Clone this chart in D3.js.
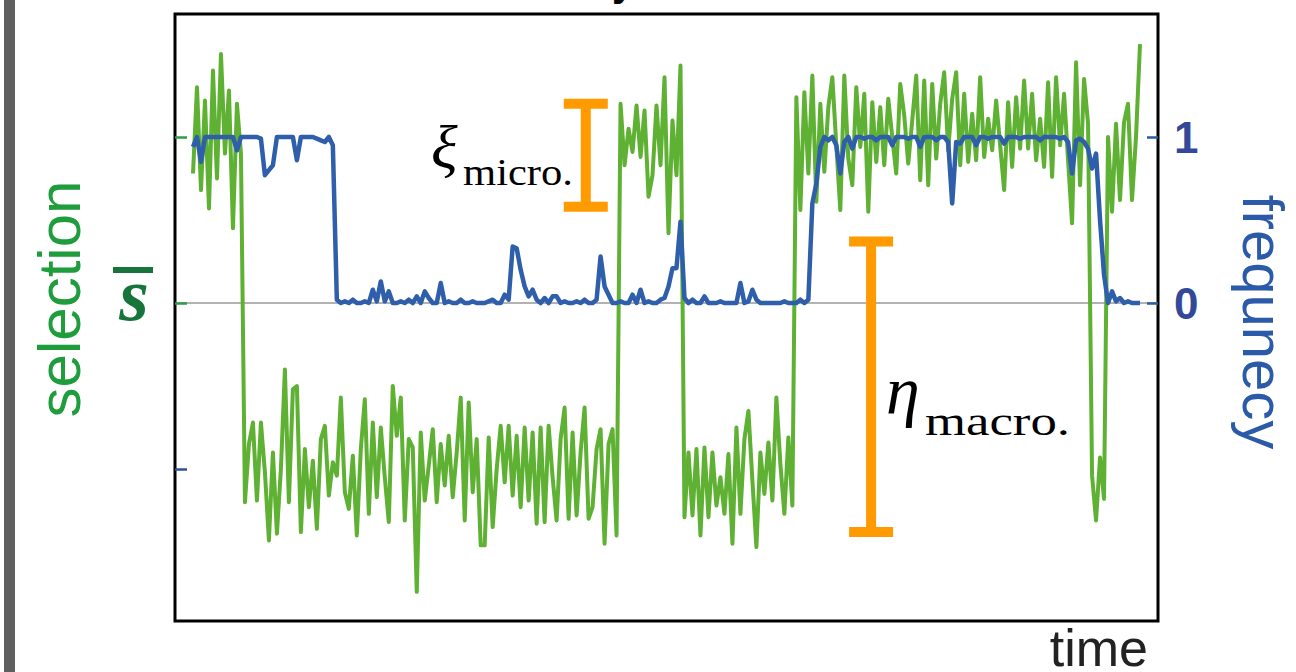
<!DOCTYPE html>
<html lang="en">
    <head>
        <meta charset="utf-8">
        <title>selection vs frequency</title>
        <script type="text/javascript" src="https://cdn.jsdelivr.net/npm/d3@7"></script>
        <style>
            body { margin: 0; background: #fff; }
            .sans { font-family: "Liberation Sans", Arial, sans-serif; }
            .serif { font-family: "Liberation Serif", "Times New Roman", serif; }
        </style>
    </head>

    <body>
        <script type="text/javascript">
        var w = 1296;
        var h = 672;

        // selection s, one value per time step
        var selection = [
            0.78, 1.3, 0.68, 1.22, 0.57, 1.4, 0.75, 1.5, 0.9, 1.28, 0.45, 1.2, 0.9,
            -1.2, -0.85, -0.72, -1.19, -0.72, -1.02, -1.43, -0.9, -1.39, -1.0,
            -0.4, -1.2, -0.52, -0.5, -1.38, -0.88, -1.23, -0.95, -1.36, -0.82,
            -0.74, -1.16, -0.96, -1.04, -0.57, -1.14, -1.24, -0.92, -1.4, -0.88,
            -0.58, -1.27, -0.72, -1.17, -0.75, -1.05, -1.32, -0.5, -0.8, -0.57,
            -1.31, -0.82, -0.87, -1.74, -0.78, -1.19, -0.98, -0.76, -1.2, -0.85,
            -1.1, -0.8, -1.17, -0.9, -0.57, -1.31, -0.6, -1.14, -0.82, -1.46,
            -1.46, -0.81, -1.35, -1.0, -0.74, -1.08, -0.74, -1.16, -0.8, -1.23,
            -0.75, -1.19, -0.78, -1.33, -0.75, -1.32, -0.74, -1.05, -1.31, -0.82,
            -0.63, -1.3, -0.78, -1.28, -0.9, -0.63, -1.3, -1.23, -0.88, -0.76,
            -1.45, -0.85, -0.76, -1.4,
            1.2, 0.83, 1.05, 0.91, 1.19, 0.88, 1.16, 0.64, 0.77, 1.19, 0.83, 1.36, 0.42, 1.1, 0.77, 1.43,
            -1.29, -0.9, -1.28, -0.88, -1.4, -0.87, -1.29, -0.9, -1.22, -1.05, -1.27, -0.91, -1.45, -0.75,
            -1.27, -0.82, -0.65, -1.07, -1.47, -0.9, -1.15, -0.84, -1.19, -0.57, -0.97, -1.27, -0.81, -1.22,
            1.24, 0.56, 1.27, 0.78, 1.37, 0.61, 1.2, 0.79, 1.18, 1.36, 0.95, 0.56, 1.37, 0.87, 0.71, 1.3,
            0.94, 1.26, 0.55, 1.21, 0.85, 1.18, 0.83, 1.23, 1.0, 0.78, 1.32, 1.13, 0.84, 1.1, 1.37, 0.74,
            1.34, 0.71, 1.32, 0.87, 1.2, 1.39, 0.92, 1.23, 1.39, 0.83, 1.26, 0.85, 1.14, 0.86, 1.36, 0.88,
            1.11, 0.92, 1.22, 0.95, 0.68, 1.21, 0.82, 1.24, 0.93, 1.34, 0.93, 1.26, 0.86, 1.11, 0.82, 1.33,
            0.76, 1.36, 0.95, 1.26, 0.86, 0.48, 1.45, 0.71, 1.35, 1.08,
            -1.04, -1.31, -0.93, -1.18, 1.0, 0.55, 1.08, 0.62, 1.09, 1.2, 0.62, 1.0, 1.56
        ];

        // frequency, same time steps
        var frequency = [
            0.94, 1.0, 0.85, 1, 1, 1, 1, 1, 1, 1, 1, 0.92,
            1, 1, 1, 1, 1, 0.99, 0.77, 0.8, 0.83, 1, 1, 1, 1, 1, 0.86,
            1, 1, 1, 1, 0.99, 0.98, 0.97, 1.0, 0.95, 0.02,
            0, 0.01, 0, 0.02, 0, 0, 0.01, 0, 0.08, 0.01, 0.13, 0.01, 0.07,
            0, 0, 0.01, 0, 0.02, 0, 0.04, 0, 0.07, 0.03, 0, 0, 0.12,
            0, 0.01, 0, 0, 0.02, 0, 0, 0.01, 0, 0, 0, 0.01, 0.02, 0, 0,
            0.05, 0.02, 0.34, 0.33, 0.2, 0.1, 0.04, 0.08, 0.02, 0, 0.03, 0, 0.04, 0.04,
            0, 0.01, 0, 0, 0.01, 0, 0.02, 0, 0, 0.02, 0.28, 0.1, 0.05,
            0, 0, 0.01, 0, 0, 0.05, 0, 0.08, 0, 0.01, 0, 0, 0.02,
            0.03, 0.1, 0.21, 0.21, 0.49, 0.03, 0, 0.02, 0, 0, 0.04,
            0, 0, 0, 0.01, 0, 0, 0, 0, 0.12, 0, 0.01, 0.08, 0.02,
            0, 0, 0, 0, 0, 0, 0.01, 0, 0, 0,
            0.02, 0, 0.02, 0.6, 0.72, 0.94, 1.0, 0.98, 1, 0.95, 0.78, 0.97, 1, 0.93,
            1, 1, 0.99, 1, 1, 0.98, 1, 1, 1, 0.95, 1, 1, 1, 0.99, 1, 1, 0.94,
            1, 1, 1, 0.98, 1, 1, 0.97, 0.6, 0.97, 0.96, 1, 1, 1, 0.95,
            1, 1, 0.99, 1, 1, 1, 0.96,
            1, 1, 1, 0.99, 1, 1, 1, 1, 0.98, 1, 1, 1, 1, 0.99, 1, 0.97,
            0.78, 0.98, 0.99, 0.97, 0.93, 0.81, 0.9, 0.5, 0.17,
            0, 0.07, 0.01, 0.03, 0, 0.01, 0, 0, 0
        ];

        // tick values
        var leftTicks = [1, 0, -1];
        var rightTicks = [1, 0];

        // annotation bars: [time step, low s, high s]
        var xiBar = [98.3, 0.58, 1.2];
        var etaBar = [169.7, -1.38, 0.37];

        var green = "#5fb133";
        var blue = "#2f5fab";

        var frame = {left: 175, right: 1158, top: 14, bottom: 621};

        var xScale = d3.scaleLinear()
                    .domain([0, selection.length - 1])
                    .range([193, 1140]);

        var xScaleF = d3.scaleLinear()
                    .domain([0, frequency.length - 1])
                    .range([193, 1140]);

        var yLeft = d3.scaleLinear()
                    .domain([-1, 1])
                    .range([469, 137]);

        var yRight = d3.scaleLinear()
                    .domain([0, 1])
                    .range([303, 137]);

        var svg = d3.select("body")
                    .append("svg")
                    .attr("width", w)
                    .attr("height", h);

        // gray bar on the far left
        svg.append("rect")
            .attr("x", 4).attr("y", 0)
            .attr("width", 11).attr("height", h)
            .attr("fill", "#5f5f5f");

        // cut off title descender at the top
        svg.append("text")
            .attr("class", "sans")
            .attr("x", 612).attr("y", -4)
            .style("font-weight", "bold")
            .style("font-size", "40px")
            .text("y");

        // zero line
        svg.append("line")
            .attr("x1", frame.left).attr("x2", frame.right)
            .attr("y1", yRight(0)).attr("y2", yRight(0))
            .attr("stroke", "#999")
            .attr("stroke-width", 1.5);

        // selection line
        var lineS = d3.line()
                    .x(function(d, i){ return xScale(i); })
                    .y(function(d){ return yLeft(d); });

        svg.append("path")
            .datum(selection)
            .attr("d", lineS)
            .attr("fill", "none")
            .attr("stroke", green)
            .attr("stroke-width", 4)
            .attr("stroke-linejoin", "round");

        // frequency line on top
        var lineF = d3.line()
                    .x(function(d, i){ return xScaleF(i); })
                    .y(function(d){ return yRight(d); });

        svg.append("path")
            .datum(frequency)
            .attr("d", lineF)
            .attr("fill", "none")
            .attr("stroke", blue)
            .attr("stroke-width", 4.5)
            .attr("stroke-linejoin", "round");

        // frame
        svg.append("rect")
            .attr("x", frame.left).attr("y", frame.top)
            .attr("width", frame.right - frame.left)
            .attr("height", frame.bottom - frame.top)
            .attr("fill", "none")
            .attr("stroke", "#000")
            .attr("stroke-width", 3);

        // left ticks, pointing inward, no labels
        var leftAxis = d3.axisLeft(yLeft)
                    .tickValues(leftTicks)
                    .tickSize(-12)
                    .tickFormat("");

        var gl = svg.append("g")
            .attr("transform", "translate(" + frame.left + ",0)")
            .call(leftAxis);
        gl.select(".domain").remove();
        gl.selectAll(".tick line")
            .attr("stroke", function(d){ return d < 0 ? "#2d4f9e" : "#2e9e46"; })
            .attr("stroke-width", 2.5);

        // right ticks with bold labels
        var rightAxis = d3.axisRight(yRight)
                    .tickValues(rightTicks)
                    .tickSize(-11)
                    .tickPadding(16)
                    .tickFormat(d3.format("d"));

        var gr = svg.append("g")
            .attr("transform", "translate(" + frame.right + ",0)")
            .call(rightAxis);
        gr.select(".domain").remove();
        gr.selectAll(".tick line")
            .attr("stroke", "#2d5aa6")
            .attr("stroke-width", 2.5);
        gr.selectAll(".tick text")
            .attr("fill", "#34489a")
            .attr("dy", "0.36em")
            .style("font-family", "'Liberation Sans', Arial, sans-serif")
            .style("font-weight", "bold")
            .style("font-size", "44px");

        // axis titles
        svg.append("text")
            .attr("class", "sans")
            .attr("transform", "translate(80,299) rotate(-90)")
            .attr("text-anchor", "middle")
            .style("font-size", "60px")
            .attr("fill", "#1f9d3d")
            .text("selection");

        svg.append("rect")
            .attr("x", 113).attr("y", 267)
            .attr("width", 40).attr("height", 6)
            .attr("fill", "#17743a");

        svg.append("text")
            .attr("class", "serif")
            .attr("x", 134).attr("y", 320)
            .attr("text-anchor", "middle")
            .style("font-style", "italic")
            .style("font-weight", "bold")
            .style("font-size", "76px")
            .attr("fill", "#17743a")
            .text("s");

        svg.append("text")
            .attr("class", "sans")
            .attr("transform", "translate(1243,322) rotate(90)")
            .attr("text-anchor", "middle")
            .style("font-size", "58px")
            .attr("fill", "#2b5aa8")
            .text("frequnecy");

        svg.append("text")
            .attr("class", "sans")
            .attr("x", 1148).attr("y", 666)
            .attr("text-anchor", "end")
            .style("font-size", "52px")
            .attr("fill", "#222")
            .text("time");

        // orange I-bars
        function iBar(b){
            var x = xScale(b[0]);
            var g = svg.append("g")
                .attr("stroke", "#ff9a00")
                .attr("stroke-width", 10);
            g.append("line")
                .attr("x1", x).attr("x2", x)
                .attr("y1", yLeft(b[1])).attr("y2", yLeft(b[2]));
            g.append("line")
                .attr("x1", x - 22).attr("x2", x + 22)
                .attr("y1", yLeft(b[1])).attr("y2", yLeft(b[1]));
            g.append("line")
                .attr("x1", x - 22).attr("x2", x + 22)
                .attr("y1", yLeft(b[2])).attr("y2", yLeft(b[2]));
        }
        iBar(xiBar);
        iBar(etaBar);

        // annotation labels
        svg.append("text")
            .attr("class", "serif")
            .attr("x", 431).attr("y", 168)
            .style("font-style", "italic")
            .style("font-size", "62px")
            .text("ξ");
        svg.append("text")
            .attr("class", "serif")
            .attr("x", 463).attr("y", 185)
            .style("font-size", "38px")
            .attr("textLength", 110)
            .attr("lengthAdjust", "spacingAndGlyphs")
            .text("micro.");

        svg.append("text")
            .attr("class", "serif")
            .attr("x", 886).attr("y", 414)
            .style("font-style", "italic")
            .style("font-size", "68px")
            .text("η");
        svg.append("text")
            .attr("class", "serif")
            .attr("x", 925).attr("y", 435)
            .style("font-size", "40px")
            .attr("textLength", 145)
            .attr("lengthAdjust", "spacingAndGlyphs")
            .text("macro.");
        </script>
    </body>

</html>
